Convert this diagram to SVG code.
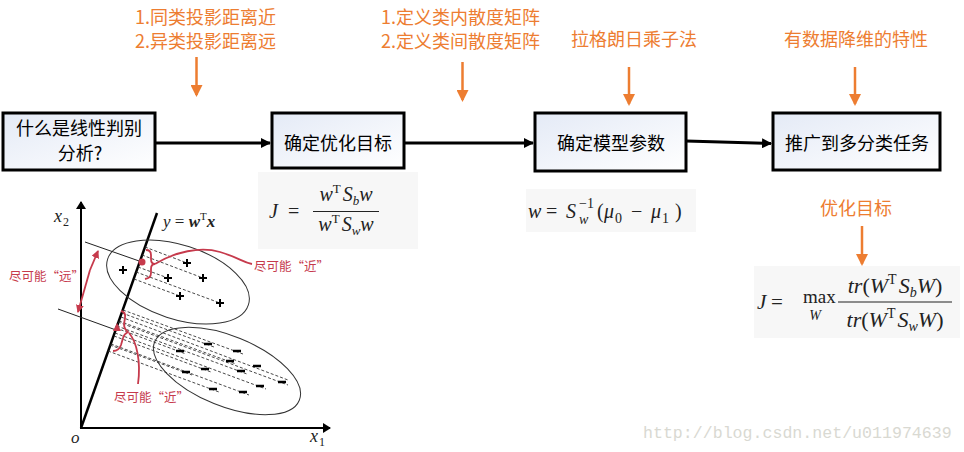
<svg xmlns="http://www.w3.org/2000/svg" width="964" height="452" viewBox="0 0 964 452">
<style>
.box{fill:url(#bg);stroke:#000;stroke-width:3}
.bt{font-family:"Noto Sans CJK SC","Noto Sans",sans-serif;font-size:18px;fill:#000;text-anchor:middle}
.ot{font-family:"Noto Sans CJK SC","Noto Sans",sans-serif;font-size:18px;fill:#ed7d31}
.conn{stroke:#000;stroke-width:3;fill:none}
.oa{stroke:#ed7d31;stroke-width:2.5;fill:none}
.fb{fill:#f7f7f7}
.m{font-family:"Liberation Serif","DejaVu Serif",serif;font-style:italic;fill:#222}
.mr{font-family:"Liberation Serif","DejaVu Serif",serif;font-style:normal;fill:#222}
.ax{stroke:#000;stroke-width:2;fill:none}
.thin{stroke:#222;stroke-width:1;fill:none}
.dash{stroke:#333;stroke-width:0.9;stroke-dasharray:3,2;fill:none}
.red{stroke:#c63a4c;stroke-width:1.8;fill:none}
.rt{font-family:"Noto Sans CJK SC",serif;font-size:12.5px;fill:#c63a4c}
.pl{stroke:#000;stroke-width:2;fill:none}
</style>
<defs>
<linearGradient id="bg" x1="0" y1="0" x2="1" y2="1">
<stop offset="0" stop-color="#e4eaf6"/>
<stop offset="1" stop-color="#ffffff"/>
</linearGradient>
<marker id="ah" markerWidth="10" markerHeight="10" refX="9" refY="5" orient="auto" markerUnits="userSpaceOnUse" viewBox="0 0 10 10">
<path d="M0,0 L10,5 L0,10 z" fill="#000"/>
</marker>
<marker id="oh" markerWidth="12" markerHeight="12" refX="10" refY="6" orient="auto" markerUnits="userSpaceOnUse" viewBox="0 0 12 12">
<path d="M0,0 L12,6 L0,12 z" fill="#ed7d31"/>
</marker>
<marker id="rh" markerWidth="8" markerHeight="8" refX="7" refY="4" orient="auto" markerUnits="userSpaceOnUse" viewBox="0 0 8 8">
<path d="M0,0 L8,4 L0,8 z" fill="#c63a4c"/>
</marker>
<marker id="kh" markerWidth="8" markerHeight="10" refX="7" refY="5" orient="auto" markerUnits="userSpaceOnUse" viewBox="0 0 8 10">
<path d="M0,0 L8,5 L0,10 z" fill="#000"/>
</marker>
</defs>
<rect width="964" height="452" fill="#fff"/>

<g id="connectors">
<line class="conn" x1="155" y1="143" x2="270" y2="143" marker-end="url(#ah)"/>
<line class="conn" x1="404" y1="143" x2="533" y2="143" marker-end="url(#ah)"/>
<line class="conn" x1="686" y1="141" x2="771" y2="143.5" marker-end="url(#ah)"/>
<line class="oa" x1="196.5" y1="57" x2="196.5" y2="95" marker-end="url(#oh)"/>
<line class="oa" x1="462.5" y1="62" x2="462.5" y2="100" marker-end="url(#oh)"/>
<line class="oa" x1="629" y1="67" x2="629" y2="104" marker-end="url(#oh)"/>
<line class="oa" x1="855" y1="67" x2="855" y2="104" marker-end="url(#oh)"/>
<line class="oa" x1="862" y1="226" x2="862" y2="264" marker-end="url(#oh)"/>
</g>

<g id="node1">
<rect class="box" x="3" y="113" width="152" height="57"/>
<text class="bt" x="79" y="135">什么是线性判别</text>
<text class="bt" x="80" y="160">分析?</text>
</g>
<g id="node2">
<rect class="box" x="272" y="113" width="132" height="55"/>
<text class="bt" x="338" y="149.5">确定优化目标</text>
</g>
<g id="node3">
<rect class="box" x="535" y="113" width="151" height="58"/>
<text class="bt" x="611" y="149.5">确定模型参数</text>
</g>
<g id="node4">
<rect class="box" x="773" y="113" width="167" height="57"/>
<text class="bt" x="857" y="149.5">推广到多分类任务</text>
</g>

<g id="labels">
<text class="ot" x="135" y="24">1.同类投影距离近</text>
<text class="ot" x="135" y="48">2.异类投影距离远</text>
<text class="ot" x="381" y="24">1.定义类内散度矩阵</text>
<text class="ot" x="381" y="48">2.定义类间散度矩阵</text>
<text class="ot" x="571" y="46">拉格朗日乘子法</text>
<text class="ot" x="784" y="46">有数据降维的特性</text>
<text class="ot" x="820" y="215">优化目标</text>
</g>

<g id="formula1">
<rect class="fb" x="258" y="172" width="160" height="77"/>
<text class="m" x="269" y="218" font-size="20">J</text>
<text class="mr" x="288" y="218" font-size="20">=</text>
<text class="m" x="346" y="201" text-anchor="middle" font-size="20">w<tspan dy="-8" font-size="13" class="mr">T</tspan><tspan dy="8" dx="2">S</tspan><tspan dy="4" font-size="13">b</tspan><tspan dy="-4">w</tspan></text>
<line x1="313" y1="211.5" x2="379" y2="211.5" stroke="#222" stroke-width="1.2"/>
<text class="m" x="346" y="231" text-anchor="middle" font-size="20">w<tspan dy="-8" font-size="13" class="mr">T</tspan><tspan dy="8" dx="2">S</tspan><tspan dy="4" font-size="13">w</tspan><tspan dy="-4">w</tspan></text>
</g>

<g id="formula2">
<rect class="fb" x="526" y="189" width="170" height="43"/>
<text class="m" x="528" y="218" font-size="20">w</text>
<text class="mr" x="546" y="218" font-size="20">=</text>
<text class="m" x="566" y="218" font-size="20">S</text>
<text class="mr" x="579" y="208" font-size="14">−1</text>
<text class="m" x="579" y="224" font-size="14">w</text>
<text class="mr" x="597" y="218" font-size="20">(</text>
<text class="m" x="604" y="218" font-size="20">μ</text>
<text class="mr" x="615" y="223" font-size="14">0</text>
<text class="mr" x="631" y="218" font-size="20">−</text>
<text class="m" x="651" y="218" font-size="20">μ</text>
<text class="mr" x="662" y="223" font-size="14">1</text>
<text class="mr" x="675" y="218" font-size="20">)</text>
</g>

<g id="formula3">
<rect class="fb" x="754" y="266" width="206" height="72"/>
<text class="m" x="757" y="309" font-size="21">J</text>
<text class="mr" x="771" y="309" font-size="21">=</text>
<text class="mr" x="803" y="303" font-size="19">max</text>
<text class="m" x="815" y="320" font-size="14" text-anchor="middle">W</text>
<text class="m" x="895" y="293" text-anchor="middle" font-size="22">tr<tspan class="mr">(</tspan>W<tspan dy="-9" font-size="14" class="mr">T</tspan><tspan dy="9" dx="2">S</tspan><tspan dy="4" font-size="14">b</tspan><tspan dy="-4">W</tspan><tspan class="mr">)</tspan></text>
<line x1="838" y1="302" x2="952" y2="302" stroke="#222" stroke-width="1.2"/>
<text class="m" x="895" y="327" text-anchor="middle" font-size="22">tr<tspan class="mr">(</tspan>W<tspan dy="-9" font-size="14" class="mr">T</tspan><tspan dy="9" dx="2">S</tspan><tspan dy="4" font-size="14">w</tspan><tspan dy="-4">W</tspan><tspan class="mr">)</tspan></text>
</g>

<g id="plot">
<line class="ax" x1="81" y1="429" x2="81" y2="202" marker-end="url(#kh)"/>
<line class="ax" x1="80" y1="428" x2="330" y2="428" marker-end="url(#kh)"/>
<line x1="81" y1="428" x2="157" y2="213" stroke="#000" stroke-width="2.5"/>
<text class="m" x="54" y="222" font-size="18">x</text>
<text class="mr" x="63" y="226" font-size="12">2</text>
<text class="m" x="310" y="442" font-size="18">x</text>
<text class="mr" x="319" y="446" font-size="12">1</text>
<text class="m" x="71" y="443" font-size="17">o</text>
<text class="m" x="163" y="227" font-size="17">y <tspan class="mr">=</tspan> <tspan font-weight="bold">w</tspan><tspan dy="-7" font-size="11" class="mr">T</tspan><tspan dy="7" font-weight="bold">x</tspan></text>
<ellipse cx="178" cy="282" rx="74" ry="37" transform="rotate(18 178 282)" fill="none" stroke="#333" stroke-width="1"/>
<ellipse cx="227" cy="371" rx="78" ry="35" transform="rotate(22 227 371)" fill="none" stroke="#333" stroke-width="1"/>
<line class="thin" x1="85" y1="242" x2="142" y2="262"/>
<line class="thin" x1="58" y1="309" x2="116" y2="330"/>
<path class="dash" d="M145,247 L187,263 M142,255 L203,278 M138,267 L168,278 M134,279 L180,296 M136,272 L220,303"/>
<path class="dash" d="M116,328 L186,354 M122,313 L214,347 M123,310 L243,354 M119,321 L236,364 M121,317 L288,380 M114,336 L211,372 M117,326 L247,374 M110,345 L192,375 M118,322 L288,385 M115,333 L266,389 M108,351 L219,392 M111,344 L249,395"/>
<path class="pl" d="M119,270 h8 M123,266 v8 M183,263 h8 M187,259 v8 M199,278 h8 M203,274 v8 M164,278 h8 M168,274 v8 M176,296 h8 M180,292 v8 M216,303 h8 M220,299 v8"/>
<path d="M176,351 h8 M204,344 h8 M233,351 h8 M226,361 h8 M253,366 h8 M201,369 h8 M237,371 h8 M182,372 h8 M278,382 h8 M256,386 h8 M209,389 h8 M239,392 h8" stroke="#000" stroke-width="2.5" fill="none"/>
<line class="red" x1="90" y1="270" x2="98" y2="251" marker-end="url(#rh)"/>
<line class="red" x1="90" y1="270" x2="78" y2="312" marker-end="url(#rh)"/>
<circle cx="142" cy="262" r="3.5" fill="#c63a4c"/>
<path class="red" d="M146,250 q5,0 5,5 v4 q0,5 4,5 q-4,0 -4,5 v4 q0,5 -6,6"/>
<path class="red" d="M155,264 C175,252 200,246 220,252 S242,262 252,264"/>
<path d="M117,323 l-4,8 l8,0 z" fill="#c63a4c"/>
<path class="red" d="M121,311 q5,1 4,7 l-1,6 q0,5 4,8 q-4,2 -5,6 l-2,7 q-2,6 -8,6"/>
<path class="red" d="M129,333 C137,342 141,362 138,384"/>
<text class="rt" x="9" y="281">尽可能“远”</text>
<text class="rt" x="254" y="271">尽可能“近”</text>
<text class="rt" x="114" y="402">尽可能“近”</text>
</g>

<text x="643" y="438" font-family="'Liberation Mono',monospace" font-size="16.6" fill="#d9d9d2">http://blog.csdn.net/u011974639</text>
</svg>
